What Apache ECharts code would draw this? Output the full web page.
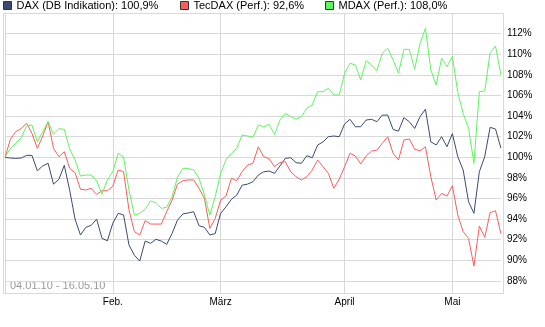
<!DOCTYPE html>
<html><head><meta charset="utf-8">
<script src="https://cdn.jsdelivr.net/npm/echarts@6/dist/echarts.min.js"></script>
<style>html,body{margin:0;padding:0;background:#fff}#c{width:545px;height:327px}</style>
</head><body><div id="c"></div>
<script>
// Trading days 04.01.2010 - 14.05.2010
const dates = [
 '04.01.','05.01.','06.01.','07.01.','08.01.','11.01.','12.01.','13.01.','14.01.','15.01.',
 '18.01.','19.01.','20.01.','21.01.','22.01.','25.01.','26.01.','27.01.','28.01.','29.01.',
 '01.02.','02.02.','03.02.','04.02.','05.02.','08.02.','09.02.','10.02.','11.02.','12.02.',
 '15.02.','16.02.','17.02.','18.02.','19.02.','22.02.','23.02.','24.02.','25.02.','26.02.',
 '01.03.','02.03.','03.03.','04.03.','05.03.','08.03.','09.03.','10.03.','11.03.','12.03.',
 '15.03.','16.03.','17.03.','18.03.','19.03.','22.03.','23.03.','24.03.','25.03.','26.03.',
 '29.03.','30.03.','31.03.',
 '01.04.','06.04.','07.04.','08.04.','09.04.','12.04.','13.04.','14.04.','15.04.','16.04.',
 '19.04.','20.04.','21.04.','22.04.','23.04.','26.04.','27.04.','28.04.','29.04.','30.04.',
 '03.05.','04.05.','05.05.','06.05.','07.05.','10.05.','11.05.','12.05.','13.05.','14.05.'
];
const monthNames = {'01':'', '02':'Feb.', '03':'März', '04':'April', '05':'Mai'};

const dax = [
 100,99.93,99.9,99.93,100.19,100.19,98.7,99.16,99.42,97.4,
 97.86,99.22,96.8,94.0,92.46,93.2,93.4,94.0,92.13,91.9,
 93.6,94.56,94.4,91.49,90.5,89.93,91.87,91.65,92.04,91.87,
 91.55,92.62,93.9,94.5,94.6,94.72,93.36,93.2,92.46,92.6,
 94.56,95.2,95.92,96.34,97.3,97.4,97.63,98.28,98.6,98.67,
 98.44,99.16,99.9,99.96,99.48,99.42,100.16,99.96,101.19,101.5,
 102.0,102.07,102.0,103.23,103.69,102.97,102.97,103.62,103.69,103.46,
 104.1,104.1,102.7,102.55,103.85,103.46,102.8,103.95,104.66,101.5,
 101.2,102.0,101.03,102.3,100.06,98.77,95.69,94.56,98.6,100.06,
 102.91,102.75,100.9
];
const tecdax = [
 100,101.75,102.49,102.8,103.3,102.33,100.87,102.07,103.46,100.87,
 100.06,100.54,98.93,98.5,96.9,96.83,96.99,96.4,96.76,96.76,
 97.2,98.77,98.6,94.9,92.78,92.46,93.85,93.52,93.52,93.52,
 94.72,95.85,97.4,97.73,97.8,97.8,96.99,96.0,93.1,94.08,
 95.85,96.24,97.96,97.73,98.6,99.25,99.42,101.03,100.06,99.87,
 99.09,99.48,99.58,98.6,98.12,97.8,98.12,98.77,99.74,99.09,
 98.44,96.99,97.86,99.09,100.39,100.13,99.35,100.13,100.61,100.71,
 101.36,102.0,100.39,99.74,101.68,101.78,100.78,100.64,101.03,98.12,
 95.85,96.5,96.24,97.24,94.4,92.78,92.13,89.44,93.33,92.23,
 94.62,94.82,92.6
];
const mdax = [
 100,100.87,101.36,101.9,103.04,103.14,101.5,102.49,103.46,102.23,
 102.78,102.72,100.8,99.74,98.18,98.28,98.28,97.7,96.41,97.8,
 98.6,100.39,100.0,96.83,94.4,94.56,94.95,95.76,95.6,95.05,
 95.15,96.18,98.06,98.93,98.93,98.77,97.96,96.34,94.4,96.18,
 98.44,99.74,100.39,100.87,102.17,102.07,101.94,103.14,102.97,103.2,
 102.2,103.62,104.27,103.95,103.69,103.95,104.76,105.08,106.37,106.37,
 106.7,106.05,106.05,108.16,109.13,108.96,107.5,109.38,108.96,108.41,
 110.1,110.58,109.45,108.16,110.48,110.48,108.54,111.07,112.52,108.48,
 107.02,109.61,108.8,109.8,106.3,104.27,102.82,99.42,106.37,106.44,
 110.16,110.8,108.0
];

const seriesNames = ['DAX', 'TecDAX', 'MDAX'];
const legendLabels = ['DAX (DB Indikation): 100,9%', 'TecDAX (Perf.): 92,6%', 'MDAX (Perf.): 108,0%'];
const colors = ['#3b4a72', '#ff5c5c', '#5ef55e'];
const rangeLabel = '04.01.10 - 16.05.10';

const FONT = "'Liberation Sans', Arial, sans-serif";
const isMonthStart = (i) => i === 0 || dates[i].slice(3, 5) !== dates[i - 1].slice(3, 5);
const gridColor = '#d9d9d9';

const chart = echarts.init(document.getElementById('c'), null, {renderer: 'canvas'});
const legendLefts = [3, 180, 325];
const option = {
  animation: false,
  color: colors,
  textStyle: {fontFamily: FONT},
  grid: {left: 5, right: 44.1, top: 13.3, bottom: 33.7, containLabel: false},
  legend: seriesNames.map((n, k) => ({
    data: [{name: n}],
    left: legendLefts[k], top: 0, padding: 0,
    icon: 'rect', itemWidth: 8, itemHeight: 8,
    itemStyle: {borderColor: '#333', borderWidth: 1},
    selectedMode: false,
    formatter: (name) => legendLabels[seriesNames.indexOf(name)],
    textStyle: {fontSize: 11, color: '#000', fontFamily: FONT}
  })),
  xAxis: {
    type: 'category', data: dates, boundaryGap: false,
    axisLine: {show: false}, axisTick: {show: false},
    splitLine: {show: true, interval: (i) => isMonthStart(i), lineStyle: {color: gridColor, width: 1}},
    axisLabel: {
      interval: (i) => isMonthStart(i),
      formatter: (v) => monthNames[v.slice(3, 5)],
      fontSize: 10, color: '#000', margin: 4, fontFamily: FONT
    }
  },
  yAxis: {
    type: 'value', position: 'right',
    min: 86.8, max: 113.98, minInterval: 2, maxInterval: 2, splitNumber: 14,
    axisLine: {show: false}, axisTick: {show: false},
    splitLine: {show: true, lineStyle: {color: gridColor, width: 1}},
    axisLabel: {
      showMinLabel: false, showMaxLabel: false,
      formatter: (v) => (Math.abs(v / 2 - Math.round(v / 2)) < 1e-6 ? Math.round(v) + '%' : ''),
      fontSize: 10, color: '#000', margin: 6, fontFamily: FONT
    }
  },
  graphic: [
    {type: 'rect', shape: {x: 3.5, y: 13.5, width: 500, height: 280},
     style: {fill: null, stroke: gridColor, lineWidth: 1}, silent: true},
    {type: 'text', x: 10, y: 286, silent: true,
     style: {text: rangeLabel, fill: '#999', font: '11px ' + FONT, verticalAlign: 'middle', align: 'left'}}
  ],
  series: [dax, tecdax, mdax].map((d, k) => ({
    name: seriesNames[k], type: 'line', data: d,
    showSymbol: false, symbol: 'none',
    lineStyle: {width: 1, color: colors[k]},
    itemStyle: {color: colors[k]},
    z: 3 + k
  }))
};
chart.setOption(option);
</script>
</body></html>
